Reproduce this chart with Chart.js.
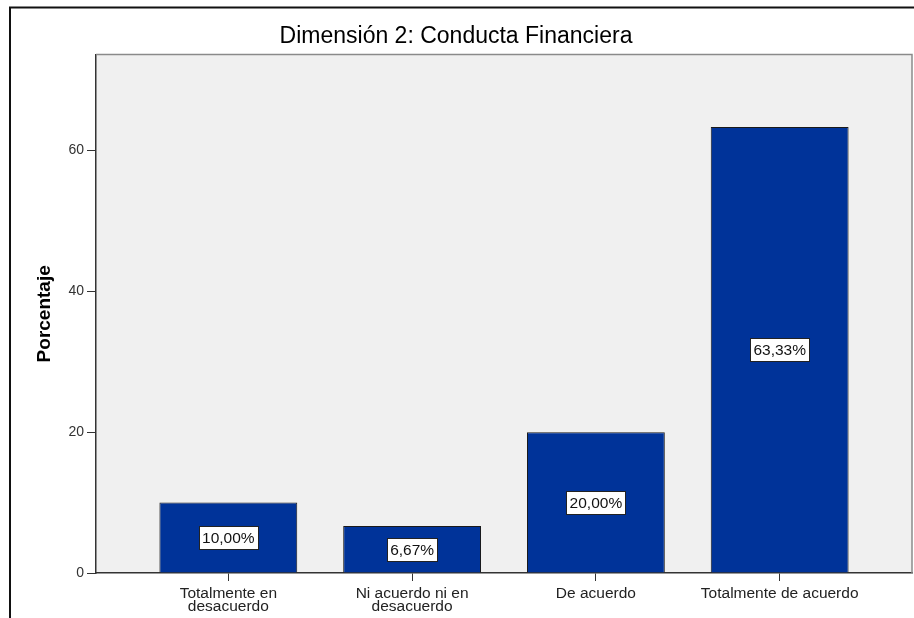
<!DOCTYPE html>
<html>
<head>
<meta charset="utf-8">
<script src="https://cdn.jsdelivr.net/npm/chart.js@4.4.1/dist/chart.umd.min.js"></script>
<style>
  html, body { margin: 0; padding: 0; background: #fff; }
  #wrap { width: 914px; height: 618px; position: relative; }
</style>
</head>
<body>
<div id="wrap"><canvas id="grafico"></canvas></div>
<script>
const categorias = [
  ['Totalmente en', 'desacuerdo'],
  ['Ni acuerdo ni en', 'desacuerdo'],
  ['De acuerdo'],
  ['Totalmente de acuerdo']
];
const porcentajes = [10.00, 6.67, 20.00, 63.33];
const ticksY = [0, 20, 40, 60];
const titulo = 'Dimensión 2: Conducta Financiera';
const tituloY = 'Porcentaje';

const fuente = "'Liberation Sans', Arial, sans-serif";

// fondo gris del área de datos, borde superior/derecho y marco exterior
const fondoPlot = {
  id: 'fondoPlot',
  beforeDraw(chart) {
    const { ctx, chartArea: a } = chart;
    ctx.save();
    ctx.fillStyle = '#f0f0f0';
    ctx.fillRect(a.left, a.top, a.right - a.left, a.bottom - a.top);
    ctx.restore();
  },
  afterDraw(chart) {
    const { ctx, chartArea: a } = chart;
    ctx.save();
    ctx.strokeStyle = '#8a8a8a';
    ctx.lineWidth = 1.5;
    ctx.beginPath();
    ctx.moveTo(a.left, a.top);
    ctx.lineTo(a.right, a.top);
    ctx.lineTo(a.right, a.bottom);
    ctx.stroke();
    // marco
    ctx.strokeStyle = '#111';
    ctx.lineWidth = 2;
    ctx.beginPath();
    ctx.moveTo(10, chart.height);
    ctx.lineTo(10, 7.5);
    ctx.lineTo(chart.width, 7.5);
    ctx.stroke();
    ctx.restore();
  }
};

// etiquetas con caja blanca en el centro de cada barra
const etiquetas = {
  id: 'etiquetas',
  afterDatasetsDraw(chart) {
    const { ctx } = chart;
    const meta = chart.getDatasetMeta(0);
    ctx.save();
    ctx.font = '15.5px ' + fuente;
    ctx.textAlign = 'center';
    ctx.textBaseline = 'middle';
    meta.data.forEach((bar, i) => {
      const txt = porcentajes[i].toFixed(2).replace('.', ',') + '%';
      const cy = (bar.y + bar.base) / 2;
      const w = Math.round(ctx.measureText(txt).width + 6);
      const h = 23;
      const x0 = Math.round(bar.x - w / 2), y0 = Math.round(cy - h / 2);
      ctx.fillStyle = '#fff';
      ctx.fillRect(x0, y0, w, h);
      ctx.strokeStyle = '#222';
      ctx.lineWidth = 1;
      ctx.strokeRect(x0 + 0.5, y0 + 0.5, w, h);
      ctx.fillStyle = '#111';
      ctx.fillText(txt, bar.x, cy + 1);
    });
    ctx.restore();
  }
};

new Chart(document.getElementById('grafico'), {
  type: 'bar',
  data: {
    datasets: [{
      label: tituloY,
      data: porcentajes.map((v, i) => ({ x: i + 1, y: v })),
      backgroundColor: '#003399',
      borderColor: '#1a1a1a',
      borderWidth: 1,
      barPercentage: 0.75,
      categoryPercentage: 1
    }]
  },
  options: {
    responsive: true,
    maintainAspectRatio: false,
    animation: false,
    layout: { padding: { left: 0, right: 2, top: 0, bottom: 0 } },
    plugins: {
      legend: { display: false },
      tooltip: { enabled: false },
      title: {
        display: true,
        text: titulo,
        color: '#000',
        font: { family: fuente, size: 23, weight: 'normal' },
        padding: { top: 23, bottom: 4 }
      }
    },
    scales: {
      x: {
        type: 'linear',
        min: 0.28,
        max: 4.72,
        offset: false,
        afterBuildTicks: s => { s.ticks = categorias.map((c, i) => ({ value: i + 1 })); },
        afterFit: s => { s.height = 45; },
        grid: { offset: false, drawOnChartArea: false, tickLength: 8, color: '#333' },
        border: { color: '#333', width: 1.5 },
        ticks: {
          color: '#222',
          maxRotation: 0,
          autoSkip: false,
          padding: 6,
          font: { family: fuente, size: 15.5, lineHeight: 0.84 },
          callback: v => categorias[v - 1]
        }
      },
      y: {
        min: 0,
        max: 73.6,
        afterBuildTicks: s => { s.ticks = ticksY.map(v => ({ value: v })); },
        afterFit: s => { s.width = 96; },
        grid: { drawOnChartArea: false, tickLength: 9, color: '#333' },
        border: { color: '#333', width: 1.5 },
        ticks: {
          color: '#333',
          padding: 3,
          font: { family: fuente, size: 14 }
        },
        title: {
          display: true,
          text: tituloY,
          color: '#000',
          font: { family: fuente, size: 19, weight: 'bold' },
          padding: { top: 33, bottom: 0 }
        }
      }
    }
  },
  plugins: [fondoPlot, etiquetas]
});
</script>
</body>
</html>
